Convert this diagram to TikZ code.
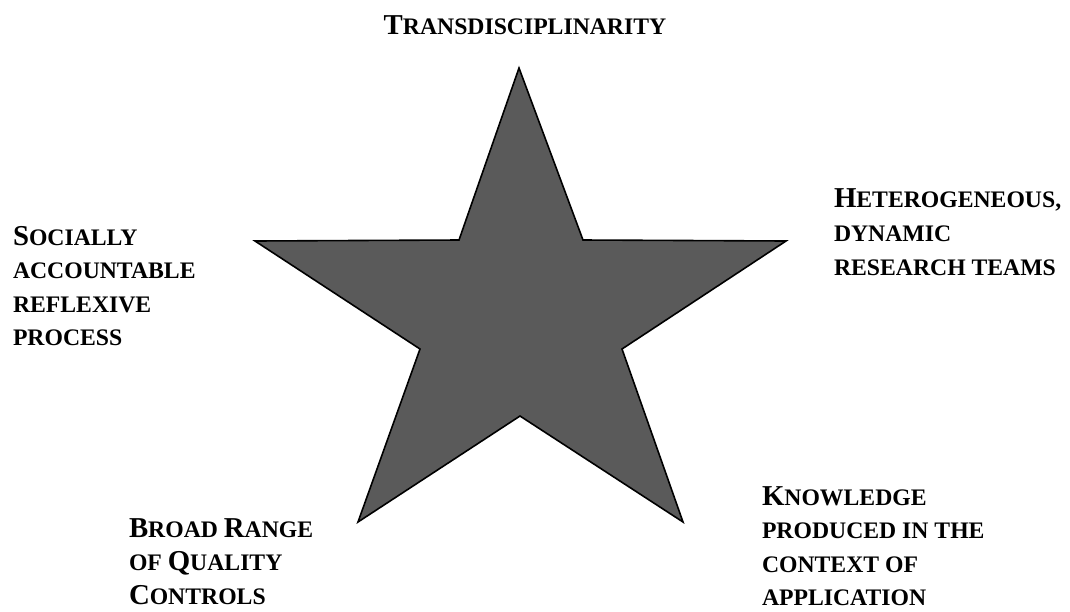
\documentclass[tikz,border=0pt]{standalone}
\usepackage{fontspec}
\setmainfont{Liberation Serif}
\definecolor{starfill}{HTML}{5A5A5A}
\newcommand\bigsc[1]{{\fontsize{28.8}{34}\selectfont #1}}
\newcommand\smsc[1]{{\fontsize{23.7}{34}\selectfont #1}}
\begin{document}
\begin{tikzpicture}[x=1pt,y=-1pt,
  lbl/.style={inner sep=0pt,outer sep=0pt,font=\bfseries,anchor=base west},
  ttl/.style={inner sep=0pt,outer sep=0pt,font=\bfseries,anchor=base},
  starshape/.style={fill=starfill,draw=black,line width=1.6pt,line join=miter}]
\useasboundingbox (0,0) rectangle (1070,611);
% star
\coordinate (o1) at (519,68);
\coordinate (i1) at (583,240);
\coordinate (o2) at (786,241);
\coordinate (i2) at (622,349);
\coordinate (o3) at (683,522);
\coordinate (i3) at (520,416);
\coordinate (o4) at (358,522);
\coordinate (i4) at (420,349);
\coordinate (o5) at (255,241);
\coordinate (i5) at (459,240);
\draw[starshape] (o1) -- (i1) -- (o2) -- (i2) -- (o3) -- (i3) -- (o4) -- (i4) -- (o5) -- (i5) -- cycle;
% title
\node[ttl] (t1) at (525,34) {\bigsc{T}\smsc{RANSDISCIPLINARITY}};
% right
\node[lbl] (r1) at (834,207) {\bigsc{H}\smsc{ETEROGENEOUS,}};
\node[lbl] (r2) at (834,241) {\smsc{DYNAMIC}};
\node[lbl] (r3) at (834,275) {\smsc{RESEARCH TEAMS}};
% left
\node[lbl] (l1) at (13,245) {\bigsc{S}\smsc{OCIALLY}};
\node[lbl] (l2) at (13,278.5) {\smsc{ACCOUNTABLE}};
\node[lbl] (l3) at (13,312) {\smsc{REFLEXIVE}};
\node[lbl] (l4) at (13,345.5) {\smsc{PROCESS}};
% bottom left
\node[lbl] (b1) at (129,537) {\bigsc{B}\smsc{ROAD }\bigsc{R}\smsc{ANGE}};
\node[lbl] (b2) at (129,570.5) {\smsc{OF }\bigsc{Q}\smsc{UALITY}};
\node[lbl] (b3) at (129,604) {\bigsc{C}\smsc{ONTROLS}};
% bottom right
\node[lbl] (k1) at (762,505) {\bigsc{K}\smsc{NOWLEDGE}};
\node[lbl] (k2) at (762,538.5) {\smsc{PRODUCED IN THE}};
\node[lbl] (k3) at (762,572) {\smsc{CONTEXT OF}};
\node[lbl] (k4) at (762,605.5) {\smsc{APPLICATION}};
\end{tikzpicture}
\end{document}
